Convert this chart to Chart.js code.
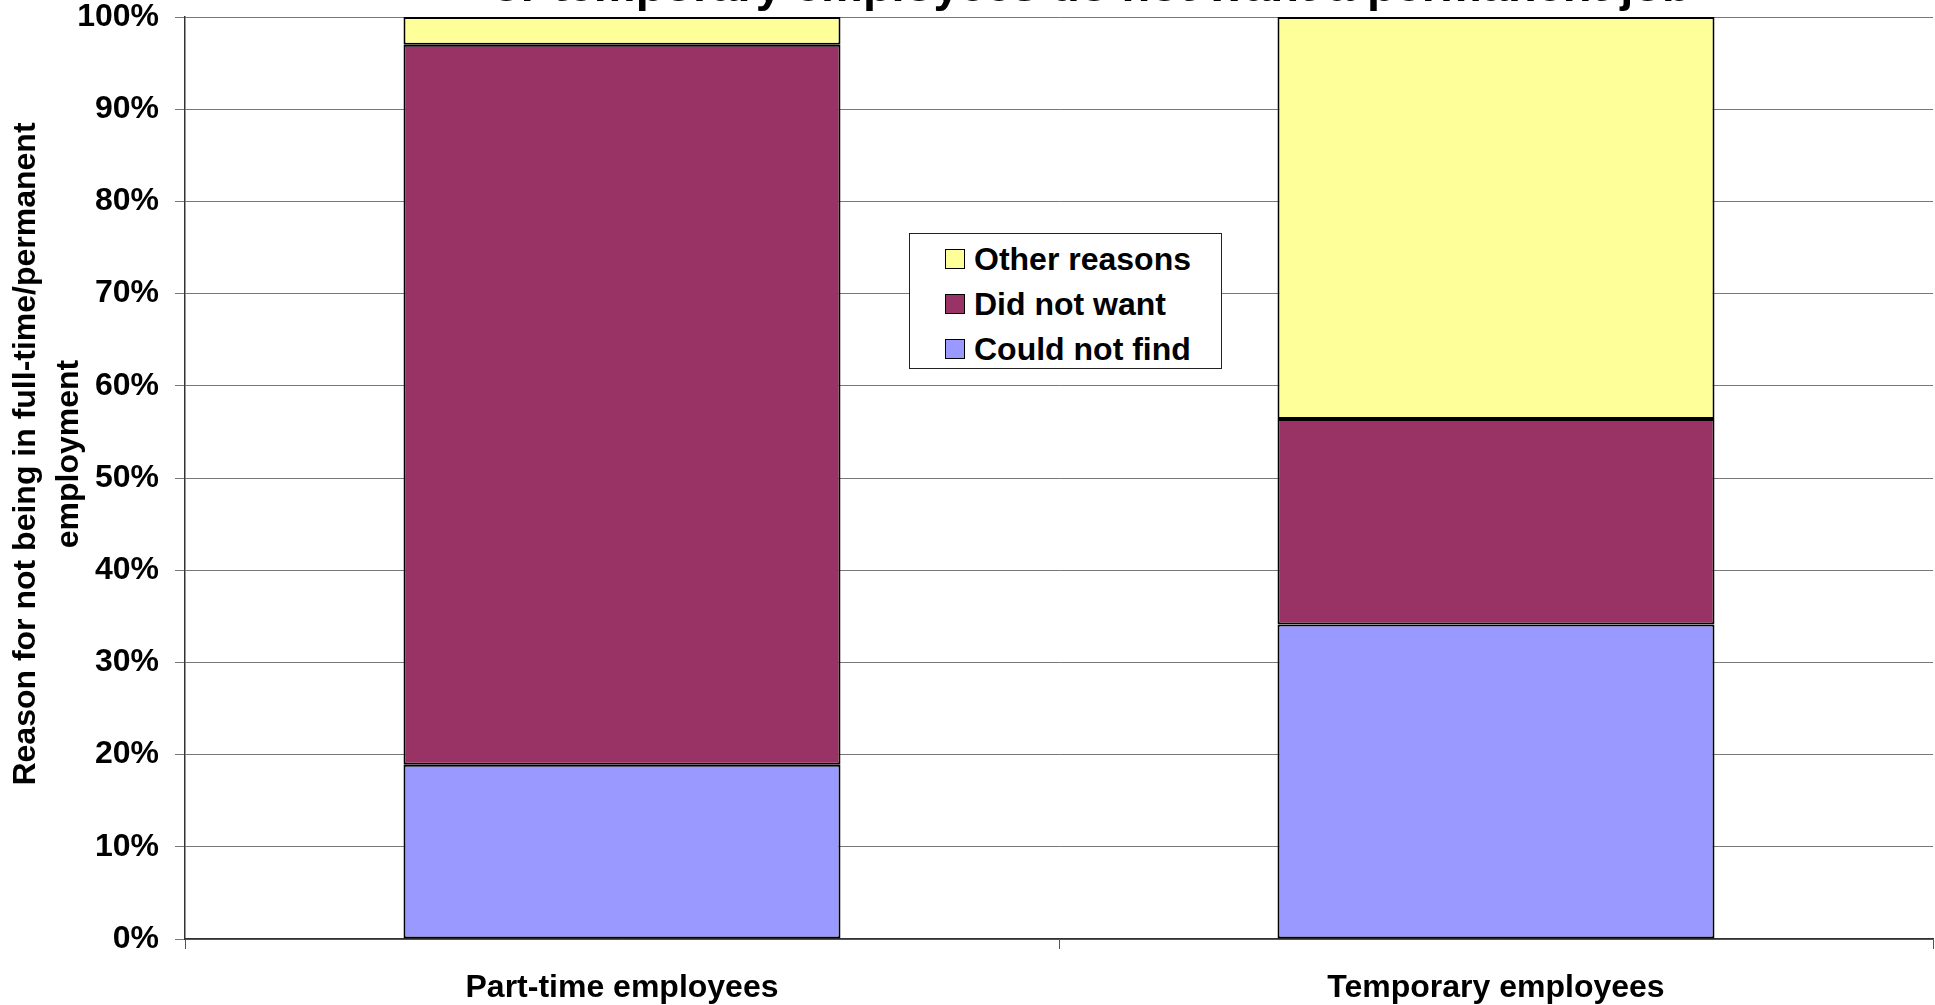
<!DOCTYPE html>
<html>
<head>
<meta charset="utf-8">
<script src="https://cdn.jsdelivr.net/npm/chart.js@4.4.1/dist/chart.umd.min.js"></script>
<style>
  html, body { margin: 0; padding: 0; background: #fff; overflow: hidden; }
  #wrap { position: relative; width: 1935px; height: 1005px; }
  #legend {
    position: absolute; left: 909px; top: 233px; width: 311px; height: 134px;
    border: 1px solid #222; background: #fff; box-sizing: content-box;
    font-family: "Liberation Sans", Arial, sans-serif; font-weight: bold; font-size: 32px; color: #000;
  }
  .item { position: absolute; left: 35px; height: 36px; display: flex; align-items: center; white-space: nowrap; }
  .sw { width: 18px; height: 18px; border: 1.5px solid #000; margin-right: 9px; }
</style>
</head>
<body>
<div id="wrap">
  <canvas id="c" width="1935" height="1005"></canvas>
  <div id="legend"></div>
</div>
<script>
const categories = ["Part-time employees", "Temporary employees"];
const seriesNames = ["Could not find", "Did not want", "Other reasons"];
const couldNotFind = [18.9, 34.1];
const didNotWant = [78.1, 22.3];
const otherReasons = [3.0, 43.6];
const seriesColors = ["#9999FF", "#993366", "#FFFF99"];
const yTicks = [0, 10, 20, 30, 40, 50, 60, 70, 80, 90, 100];
const titleText = "or temporary employees do not want a permanent job";
const yTitleLines = ["Reason for not being in full-time/permanent", "employment"];

const FONT = '"Liberation Sans", Arial, sans-serif';

const values = [couldNotFind, didNotWant, otherReasons];
const datasets = seriesNames.map((name, i) => ({
  label: name,
  data: values[i],
  backgroundColor: seriesColors[i],
  borderColor: "#000",
  borderWidth: 2,
  borderSkipped: false,
  categoryPercentage: 1.0,
  barPercentage: 0.5
}));

const textPlugin = {
  id: "texts",
  afterDraw(chart) {
    const ctx = chart.ctx;
    ctx.save();
    ctx.fillStyle = "#000";
    // chart title (clipped at the top edge, as in the reference)
    ctx.font = "bold 47px " + FONT;
    ctx.textAlign = "left";
    ctx.textBaseline = "alphabetic";
    ctx.fillText(titleText, 492, 0.5);
    // y axis title
    ctx.font = "bold 32px " + FONT;
    ctx.textAlign = "center";
    ctx.textBaseline = "middle";
    const cy = 454;
    const xs = [26, 69];
    yTitleLines.forEach((t, i) => {
      ctx.save();
      ctx.translate(xs[i], cy);
      ctx.rotate(-Math.PI / 2);
      ctx.fillText(t, 0, 0);
      ctx.restore();
    });
    ctx.restore();
  }
};

const chart = new Chart(document.getElementById("c"), {
  type: "bar",
  data: { labels: categories, datasets },
  options: {
    responsive: false,
    animation: false,
    devicePixelRatio: 1,
    layout: { padding: { left: 79, right: 2, top: 17, bottom: 0 } },
    plugins: { legend: { display: false }, title: { display: false }, tooltip: { enabled: false } },
    scales: {
      x: {
        stacked: true,
        offset: true,
        afterFit(scale) { scale.height = 66; scale.paddingLeft = 0; scale.paddingRight = 0; },
        grid: { display: true, drawOnChartArea: false, drawTicks: true, tickLength: 10, color: "#555", offset: true },
        border: { display: true, color: "#333", width: 1.5 },
        ticks: { color: "#000", padding: 20, font: { family: FONT, size: 32, weight: "bold" } }
      },
      y: {
        stacked: true,
        min: 0, max: 100,
        afterBuildTicks(scale) { scale.ticks = yTicks.map(v => ({ value: v })); },
        afterFit(scale) { scale.width = 106; scale.paddingTop = 0; scale.paddingBottom = 0; },
        grid: { color: "#777", lineWidth: 1, tickLength: 10, drawTicks: true },
        border: { display: true, color: "#333", width: 1.5 },
        ticks: { color: "#000", padding: 16, font: { family: FONT, size: 32, weight: "bold" },
                 callback: v => v + "%" }
      }
    }
  },
  plugins: [textPlugin]
});

// legend (reverse order, as in the reference)
const legend = document.getElementById("legend");
const tops = [7, 52, 97];
chart.data.datasets.slice().reverse().forEach((ds, i) => {
  const d = document.createElement("div");
  d.className = "item";
  d.style.top = tops[i] + "px";
  const sw = document.createElement("span");
  sw.className = "sw";
  sw.style.background = ds.backgroundColor;
  const t = document.createElement("span");
  t.textContent = ds.label;
  d.appendChild(sw); d.appendChild(t);
  legend.appendChild(d);
});
</script>
</body>
</html>
